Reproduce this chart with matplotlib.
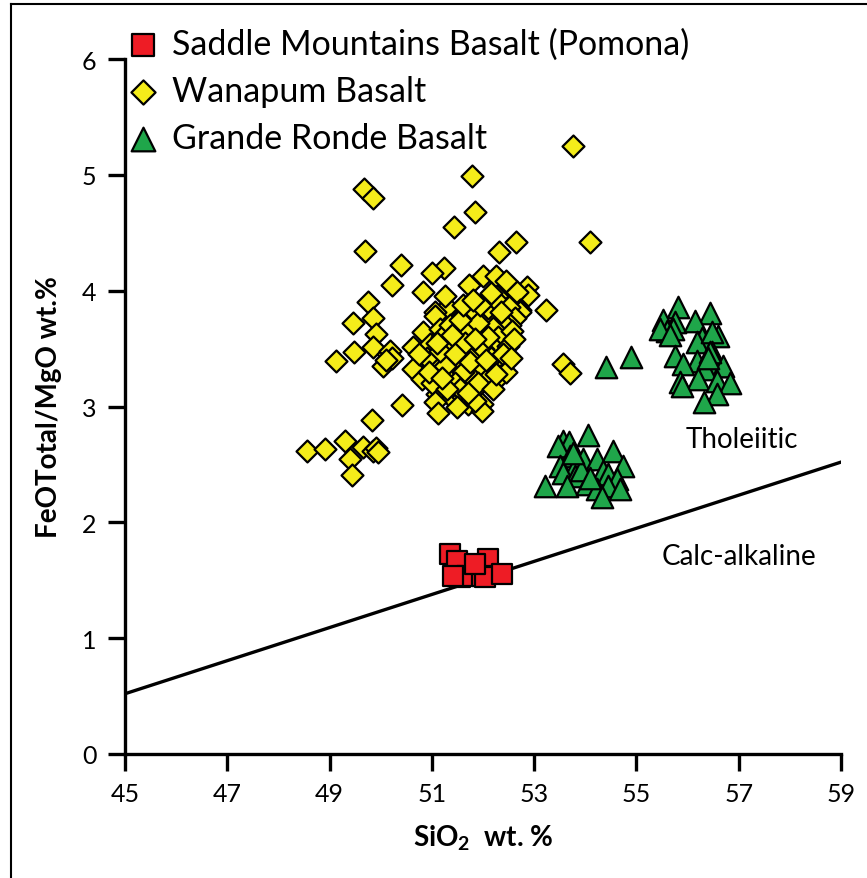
import numpy as np
import matplotlib
matplotlib.use("Agg")
import matplotlib.pyplot as plt
from matplotlib.lines import Line2D

plt.rcParams['font.family'] = ['Lato', 'DejaVu Sans']
plt.rcParams['mathtext.fontset'] = 'custom'
plt.rcParams['mathtext.rm'] = 'Lato:bold'
plt.rcParams['mathtext.default'] = 'rm'

# --- data (SiO2 wt.%, FeOtotal/MgO) ---
saddle_x = [51.36, 51.49, 52.10, 51.55, 51.69, 51.98, 52.04, 52.37, 51.84, 51.42]
saddle_y = [1.73, 1.67, 1.68, 1.53, 1.54, 1.54, 1.53, 1.55, 1.64, 1.54]

wanapum_x = [53.76, 51.79, 49.67, 49.85, 51.84, 51.43, 54.09, 52.65, 52.31, 49.69,
             50.40, 51.24, 51.00, 50.22, 50.83, 51.73, 52.00, 52.25, 52.45, 52.86,
             52.88, 52.67, 52.10, 52.27, 53.23, 52.72, 49.75, 49.46, 49.85, 51.30,
             51.06, 49.91, 49.85, 49.48, 49.13, 50.04, 50.14, 50.18, 50.22, 50.10,
             50.42, 49.83, 48.56, 48.91, 49.30, 49.65, 49.85, 49.90, 49.95, 49.40,
             49.44, 53.56, 53.70,
             51.06, 51.49, 51.84, 52.14, 52.47, 52.72, 52.10, 52.30, 52.50, 52.63,
             52.52, 52.40, 52.20, 50.83, 51.16, 51.59, 51.94, 52.29, 52.57, 50.63,
             50.96, 51.30, 51.65, 52.24, 52.49, 50.63, 51.02, 51.94, 52.27, 50.81,
             51.36, 51.75, 52.08, 52.33, 51.84, 51.10, 51.39, 51.61, 51.98, 51.71,
             51.06, 51.12, 51.98,
             51.20, 51.40, 51.50, 51.80, 52.00, 51.70, 51.35, 51.90, 52.10, 51.60,
             51.25, 51.45, 51.90, 52.15, 52.40, 52.45, 50.90, 50.75, 51.00, 51.55,
             51.30, 52.20, 51.85, 51.50, 51.65, 51.75, 51.15, 51.85, 52.05, 51.40,
             51.55, 52.35, 52.60, 51.95, 50.95, 51.20, 52.25, 51.70, 51.45, 51.10,
             52.55, 51.60, 51.80, 51.25, 52.15]
wanapum_y = [5.25, 4.99, 4.88, 4.80, 4.68, 4.55, 4.42, 4.42, 4.33, 4.34,
             4.22, 4.20, 4.15, 4.05, 3.99, 4.05, 4.13, 4.13, 4.08, 4.03,
             3.96, 3.99, 3.92, 3.95, 3.83, 3.83, 3.90, 3.72, 3.76, 3.86,
             3.82, 3.63, 3.51, 3.47, 3.39, 3.35, 3.45, 3.48, 3.42, 3.40,
             3.01, 2.88, 2.62, 2.63, 2.70, 2.65, 2.62, 2.64, 2.61, 2.55,
             2.41, 3.37, 3.29,
             3.78, 3.74, 3.82, 3.77, 3.77, 3.82, 3.85, 3.90, 3.86, 3.76,
             3.70, 3.72, 3.68, 3.64, 3.67, 3.57, 3.61, 3.60, 3.65, 3.51,
             3.54, 3.43, 3.48, 3.50, 3.52, 3.32, 3.35, 3.34, 3.37, 3.24,
             3.26, 3.26, 3.24, 3.26, 3.15, 3.11, 3.07, 3.08, 3.02, 3.02,
             3.04, 2.94, 2.96,
             3.60, 3.52, 3.40, 3.45, 3.50, 3.65, 3.70, 3.72, 3.60, 3.30,
             3.35, 3.20, 3.20, 3.42, 3.45, 3.30, 3.42, 3.45, 3.20, 3.15,
             3.15, 3.15, 3.05, 3.00, 3.55, 3.38, 3.48, 3.58, 3.40, 3.62,
             3.75, 3.82, 3.58, 3.88, 3.30, 3.25, 3.28, 3.12, 3.45, 3.55,
             3.42, 3.88, 3.92, 3.95, 3.98]

grande_x = [55.81, 56.44, 55.52, 55.76, 56.15, 55.60, 55.72, 55.46, 55.65, 56.28,
            56.60, 56.18, 56.48, 56.48, 55.75, 56.18, 55.91, 56.58, 56.69, 56.34,
            55.85, 56.20, 56.57, 56.83, 55.89, 56.57, 56.32, 56.43, 56.40,
            54.41, 54.89,
            54.05, 53.56, 53.68, 53.47, 54.54, 53.70, 53.96, 54.23, 54.74, 53.51,
            53.80, 54.35, 53.56, 53.80, 54.45, 54.62, 53.21, 53.64, 54.03, 54.23,
            54.45, 54.68, 54.33, 53.92, 53.75, 54.10]
grande_y = [3.86, 3.81, 3.75, 3.73, 3.74, 3.65, 3.67, 3.67, 3.62, 3.59,
            3.61, 3.56, 3.64, 3.47, 3.44, 3.39, 3.37, 3.35, 3.35, 3.32,
            3.21, 3.24, 3.22, 3.20, 3.18, 3.11, 3.04, 3.47, 3.42,
            3.34, 3.43,
            2.75, 2.70, 2.69, 2.66, 2.62, 2.57, 2.55, 2.55, 2.49, 2.49,
            2.48, 2.44, 2.43, 2.40, 2.42, 2.37, 2.31, 2.31, 2.33, 2.29,
            2.31, 2.29, 2.22, 2.45, 2.60, 2.38]

# tholeiitic / calc-alkaline divide
line_x = [45, 59]
line_y = [0.52, 2.52]

fig = plt.figure(figsize=(8.67, 8.79), dpi=100)
ax = fig.add_axes([0.1442, 0.1411, 0.8258, 0.7906])

ax.plot(line_x, line_y, color='black', lw=2.4, zorder=1)

ax.scatter(saddle_x, saddle_y, marker='s', s=215, c='#ee1c25',
           edgecolors='black', linewidths=1.6, zorder=3,
           label='Saddle Mountains Basalt (Pomona)')
ax.scatter(wanapum_x, wanapum_y, marker='D', s=125, c='#f4ec1a',
           edgecolors='black', linewidths=1.6, zorder=3,
           label='Wanapum Basalt')
ax.scatter(grande_x, grande_y, marker='^', s=240, c='#1fa64a',
           edgecolors='black', linewidths=1.6, zorder=3,
           label='Grande Ronde Basalt')

ax.text(55.97, 2.72, 'Tholeiitic', fontsize=20, va='center', ha='left')
ax.text(55.50, 1.71, 'Calc-alkaline', fontsize=20, va='center', ha='left')

ax.set_xlim(45, 59)
ax.set_ylim(0, 6)
ax.set_xticks(np.arange(45, 60, 2))
ax.set_yticks(np.arange(0, 7, 1))
for s in ['top', 'right']:
    ax.spines[s].set_visible(False)
for s in ['left', 'bottom']:
    ax.spines[s].set_linewidth(2.4)
ax.tick_params(direction='out', length=12.5, width=2.4, labelsize=18, pad=8)

ax.set_xlabel('SiO$_2$  wt. %', fontsize=20, fontweight='bold', labelpad=12)
ax.set_ylabel('FeOTotal/MgO wt.%', fontsize=20, fontweight='bold', labelpad=14)

fig.legend(loc='upper left', bbox_to_anchor=(129 / 867, 1 - 29 / 879),
           frameon=False, fontsize=24.5, handlelength=0.8, handletextpad=0.45,
           labelspacing=0.44, borderpad=0, borderaxespad=0, markerscale=1.1)

# frame around the figure
fig.add_artist(Line2D([11 / 867, 11 / 867], [0, 1 - 5 / 879], color='black', lw=1.5))
fig.add_artist(Line2D([11 / 867, 1], [1 - 5 / 879, 1 - 5 / 879], color='black', lw=1.5))

fig.savefig('out.png', dpi=100)
